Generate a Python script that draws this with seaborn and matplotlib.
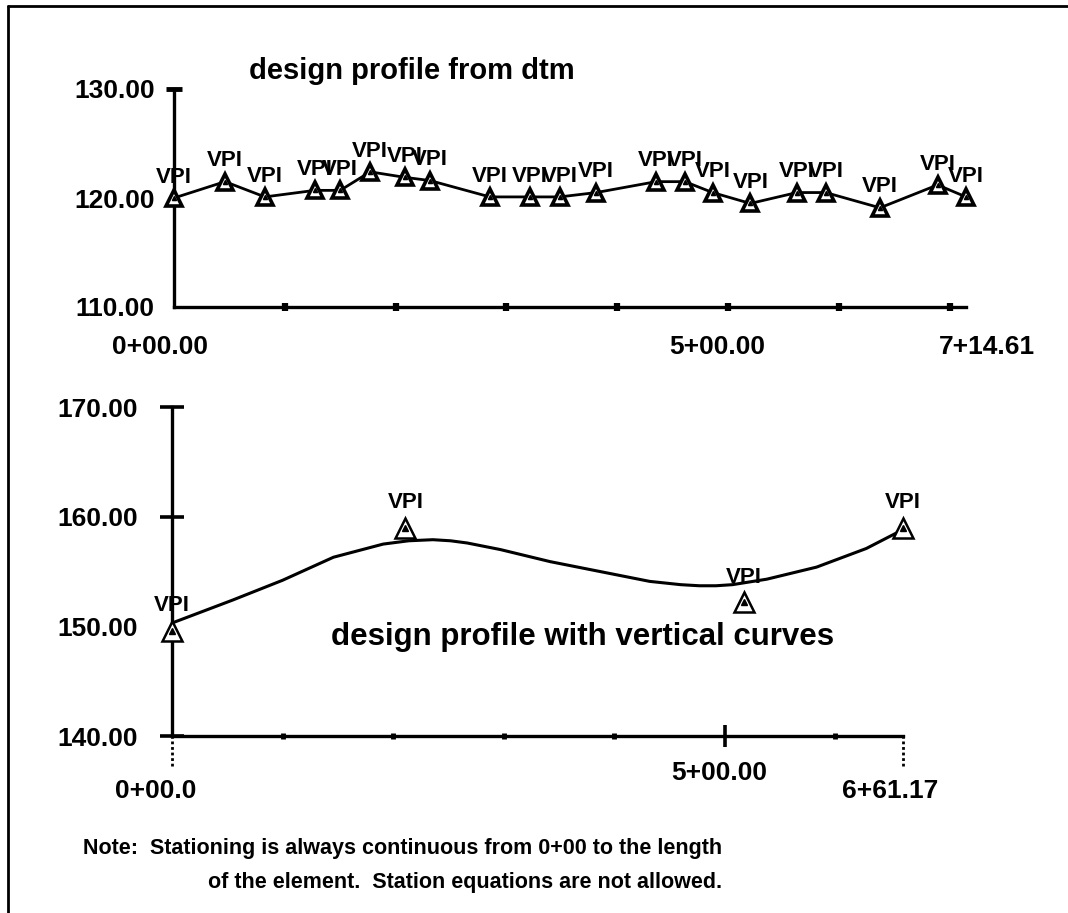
import matplotlib
matplotlib.use("Agg")
import matplotlib.pyplot as plt
import seaborn as sns
import pandas as pd
from matplotlib.lines import Line2D
from matplotlib.transforms import ScaledTranslation

# ---------------- data ----------------
# top profile: design profile from dtm (station, elevation of VPIs)
top_station = [0, 46, 82, 127, 150, 177, 208, 231, 285, 321, 348, 381,
               435, 461, 486, 520, 562, 588, 637, 689, 714.61]
top_elev = [120.0, 121.5, 120.1, 120.7, 120.7, 122.4, 121.9, 121.6, 120.1,
            120.1, 120.1, 120.5, 121.5, 121.5, 120.5, 119.5, 120.5, 120.5,
            119.1, 121.2, 120.1]
top_yticks = [110, 120, 130]
top_ylabels = ["110.00", "120.00", "130.00"]
top_xticks = [0, 500, 714.61]
top_xlabels = ["0+00.00", "5+00.00", "7+14.61"]
top_minor = [100, 200, 300, 400, 500, 600, 700]

# bottom profile: design profile with vertical curves
vpi_station = [0, 211, 517, 661.17]
vpi_elev = [149.6, 159.0, 152.2, 159.0]
curve_station = [0, 55, 100, 146, 191, 214, 236, 252, 267, 297, 342, 387, 432,
                 460, 477, 492, 507, 538, 583, 628, 655, 661.17]
curve_elev = [150.3, 152.4, 154.2, 156.3, 157.5, 157.8, 157.9, 157.8, 157.6,
              157.0, 155.9, 155.0, 154.1, 153.8, 153.7, 153.7, 153.8, 154.3,
              155.4, 157.1, 158.5, 158.8]
bot_yticks = [140, 150, 160, 170]
bot_ylabels = ["140.00", "150.00", "160.00", "170.00"]
bot_xticks = [0, 500, 661.17]
bot_xlabels = ["0+00.0", "5+00.00", "6+61.17"]
bot_minor = [100, 200, 300, 400, 600]

top_title = "design profile from dtm"
bot_title = "design profile with vertical curves"
note_1 = "Note:  Stationing is always continuous from 0+00 to the length"
note_2 = "of the element.  Station equations are not allowed."
vpi_text = "VPI"

# ---------------- style ----------------
sns.set_style("white")
plt.rcParams["font.family"] = ["Liberation Sans", "DejaVu Sans"]
plt.rcParams["text.color"] = "black"
plt.rcParams["xtick.color"] = "black"
plt.rcParams["ytick.color"] = "black"
plt.rcParams["xtick.labelcolor"] = "black"
plt.rcParams["ytick.labelcolor"] = "black"

W, H = 1068, 913
fig = plt.figure(figsize=(W / 100, H / 100), dpi=100)


def px_axes(x0, x1, y_top, y_bot):
    return fig.add_axes([x0 / W, 1 - y_bot / H, (x1 - x0) / W, (y_bot - y_top) / H])


def style_axes(ax):
    for s in ["top", "right"]:
        ax.spines[s].set_visible(False)
    for s in ["left", "bottom"]:
        ax.spines[s].set_linewidth(2.4)
        ax.spines[s].set_color("black")
    ax.set_xlabel("")
    ax.set_ylabel("")
    ax.set_facecolor("none")
    ax.tick_params(which="both", bottom=True, left=True, top=False, right=False,
                   color="black", labelcolor="black")


def shift(label, dx, dy):
    label.set_transform(label.get_transform() +
                        ScaledTranslation(dx / 72, dy / 72, fig.dpi_scale_trans))


LBL = dict(fontsize=19, fontweight="bold")
VPI_STYLE = dict(ha="center", va="center", fontsize=16, fontweight="bold",
                 zorder=5, annotation_clip=False)

# ---------------- top chart ----------------
ax1 = px_axes(174, 966, 89, 307)
df_top = pd.DataFrame({"station": top_station, "elev": top_elev})
sns.lineplot(data=df_top, x="station", y="elev", ax=ax1, color="black",
             linewidth=2.0, sort=False, zorder=3)
ax1.plot(df_top["station"], df_top["elev"], linestyle="none", marker="^",
         markersize=11, markerfacecolor="white", markeredgecolor="black",
         markeredgewidth=2.6, zorder=4, clip_on=False)
ax1.plot(df_top["station"], df_top["elev"], linestyle="none", marker="^",
         markersize=3, markerfacecolor="black", markeredgecolor="black",
         zorder=4, clip_on=False)
for s, e in zip(top_station, top_elev):
    ax1.annotate(vpi_text, (s, e), xytext=(0, 15), textcoords="offset points",
                 **VPI_STYLE)
ax1.set_xlim(0, 714.61)
ax1.set_ylim(110, 130)
style_axes(ax1)
ax1.set_yticks(top_yticks, top_ylabels, **LBL)
ax1.set_xticks(top_xticks, top_xlabels, **LBL)
ax1.set_xticks(top_minor, minor=True)
ax1.xaxis.remove_overlapping_locs = False
ax1.tick_params(axis="y", which="major", direction="inout", length=12, width=3.5, pad=8)
ax1.tick_params(axis="x", which="major", length=0, pad=20)
ax1.tick_params(axis="x", which="minor", direction="inout", length=6, width=4.5)
for t in ax1.yaxis.get_major_ticks()[:2]:
    t.tick1line.set_visible(False)
xl = ax1.get_xticklabels()
shift(xl[0], -10, 0)
shift(xl[1], -8, 0)
shift(xl[2], 15, 0)
ax1.set_title(top_title, fontsize=21, fontweight="bold", pad=7, x=0.3)

# ---------------- bottom chart ----------------
ax2 = px_axes(172, 903, 407, 736)
df_curve = pd.DataFrame({"station": curve_station, "elev": curve_elev})
df_vpi = pd.DataFrame({"station": vpi_station, "elev": vpi_elev})
sns.lineplot(data=df_curve, x="station", y="elev", ax=ax2, color="black",
             linewidth=2.2, sort=False, zorder=3)
ax2.plot(df_vpi["station"], df_vpi["elev"], linestyle="none", marker="^",
         markersize=14, markerfacecolor="white", markeredgecolor="black",
         markeredgewidth=1.8, zorder=4, clip_on=False)
ax2.plot(df_vpi["station"], df_vpi["elev"], linestyle="none", marker="^",
         markersize=4.5, markerfacecolor="black", markeredgecolor="black",
         zorder=5, clip_on=False)
for s, e in zip(vpi_station, vpi_elev):
    ax2.annotate(vpi_text, (s, e), xytext=(0, 18), textcoords="offset points",
                 **VPI_STYLE)
ax2.vlines([bot_xticks[0], bot_xticks[-1]], 137.3, 140, colors="black",
           linestyles=(0, (1, 1)), linewidth=2, clip_on=False)
ax2.set_xlim(0, 661.17)
ax2.set_ylim(140, 170)
style_axes(ax2)
ax2.set_yticks(bot_yticks, bot_ylabels, **LBL)
ax2.set_xticks(bot_xticks, bot_xlabels, **LBL)
ax2.set_xticks(bot_minor, minor=True)
ax2.tick_params(axis="y", which="major", direction="inout", length=17, width=2.6, pad=16)
ax2.tick_params(axis="x", which="major", direction="inout", length=16, width=2.6, pad=10)
ax2.tick_params(axis="x", which="minor", direction="inout", length=5, width=3.5)
ax2.yaxis.get_major_ticks()[1].tick1line.set_visible(False)
xl2 = ax2.get_xticklabels()
shift(xl2[0], -12, -13)
shift(xl2[1], -4, 0)
shift(xl2[2], -9, -13)
ax2.xaxis.get_major_ticks()[0].tick1line.set_visible(False)
ax2.xaxis.get_major_ticks()[2].tick1line.set_visible(False)
ax2.text(0.562, 0.30, bot_title, transform=ax2.transAxes, ha="center",
         va="center", fontsize=22.5, fontweight="bold")

# ---------------- note & frame ----------------
fig.text(722 / W, 1 - 848 / H, note_1, ha="right", va="center", fontsize=15.5,
         fontweight="bold")
fig.text(722 / W, 1 - 882 / H, note_2, ha="right", va="center", fontsize=15.5,
         fontweight="bold")
fig.add_artist(Line2D([8 / W, 8 / W], [0, 1 - 6 / H], color="black", linewidth=2,
                      transform=fig.transFigure))
fig.add_artist(Line2D([8 / W, 1], [1 - 6 / H, 1 - 6 / H], color="black", linewidth=2,
                      transform=fig.transFigure))

fig.savefig("out.png", dpi=100, facecolor="white")
